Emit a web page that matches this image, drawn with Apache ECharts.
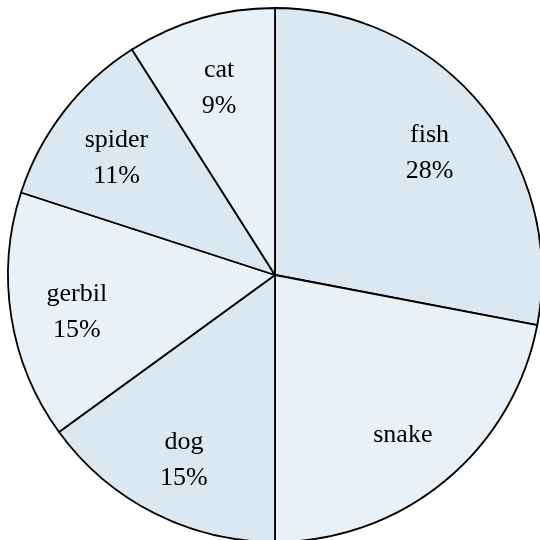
<!DOCTYPE html>
<html>
<head>
<meta charset="utf-8">
<script src="https://cdn.jsdelivr.net/npm/echarts@6/dist/echarts.min.js"></script>
<style>html,body{margin:0;padding:0;background:#fff;}#c{width:540px;height:540px;}</style>
</head>
<body>
<div id="c"></div>
<script>
const categories = ['fish', 'snake', 'dog', 'gerbil', 'spider', 'cat'];
const values = [28, 22, 15, 15, 11, 9];
const showPct = [true, false, true, true, true, true];
const colors = ['#dce8f1', '#e9f1f6', '#dce8f1', '#e9f1f6', '#dce8f1', '#e9f1f6'];

const chart = echarts.init(document.getElementById('c'));
const R = 267;
const data = categories.map((c, i) => ({ name: c, value: values[i], itemStyle: { color: colors[i] } }));
chart.setOption({
  animation: false,
  series: [{
    type: 'pie',
    center: [275, 275],
    radius: [0, R],
    startAngle: 90,
    clockwise: true,
    silent: true,
    label: { show: false },
    labelLine: { show: false },
    itemStyle: { borderColor: '#000', borderWidth: 1.8 },
    data: data
  }, {
    type: 'pie',
    center: [275, 275],
    radius: [R * 0.48, R],
    startAngle: 90,
    clockwise: true,
    silent: true,
    avoidLabelOverlap: false,
    labelLine: { show: false },
    itemStyle: { color: 'transparent', borderWidth: 0 },
    label: {
      show: true,
      position: 'inside',
      offset: [0, 6],
      fontFamily: 'Liberation Serif',
      fontSize: 26,
      lineHeight: 36,
      color: '#000',
      formatter: p => {
        const i = categories.indexOf(p.name);
        return showPct[i] ? p.name + '\n' + values[i] + '%' : p.name;
      }
    },
    data: categories.map((c, i) => ({ name: c, value: values[i] }))
  }]
});
</script>
</body>
</html>
